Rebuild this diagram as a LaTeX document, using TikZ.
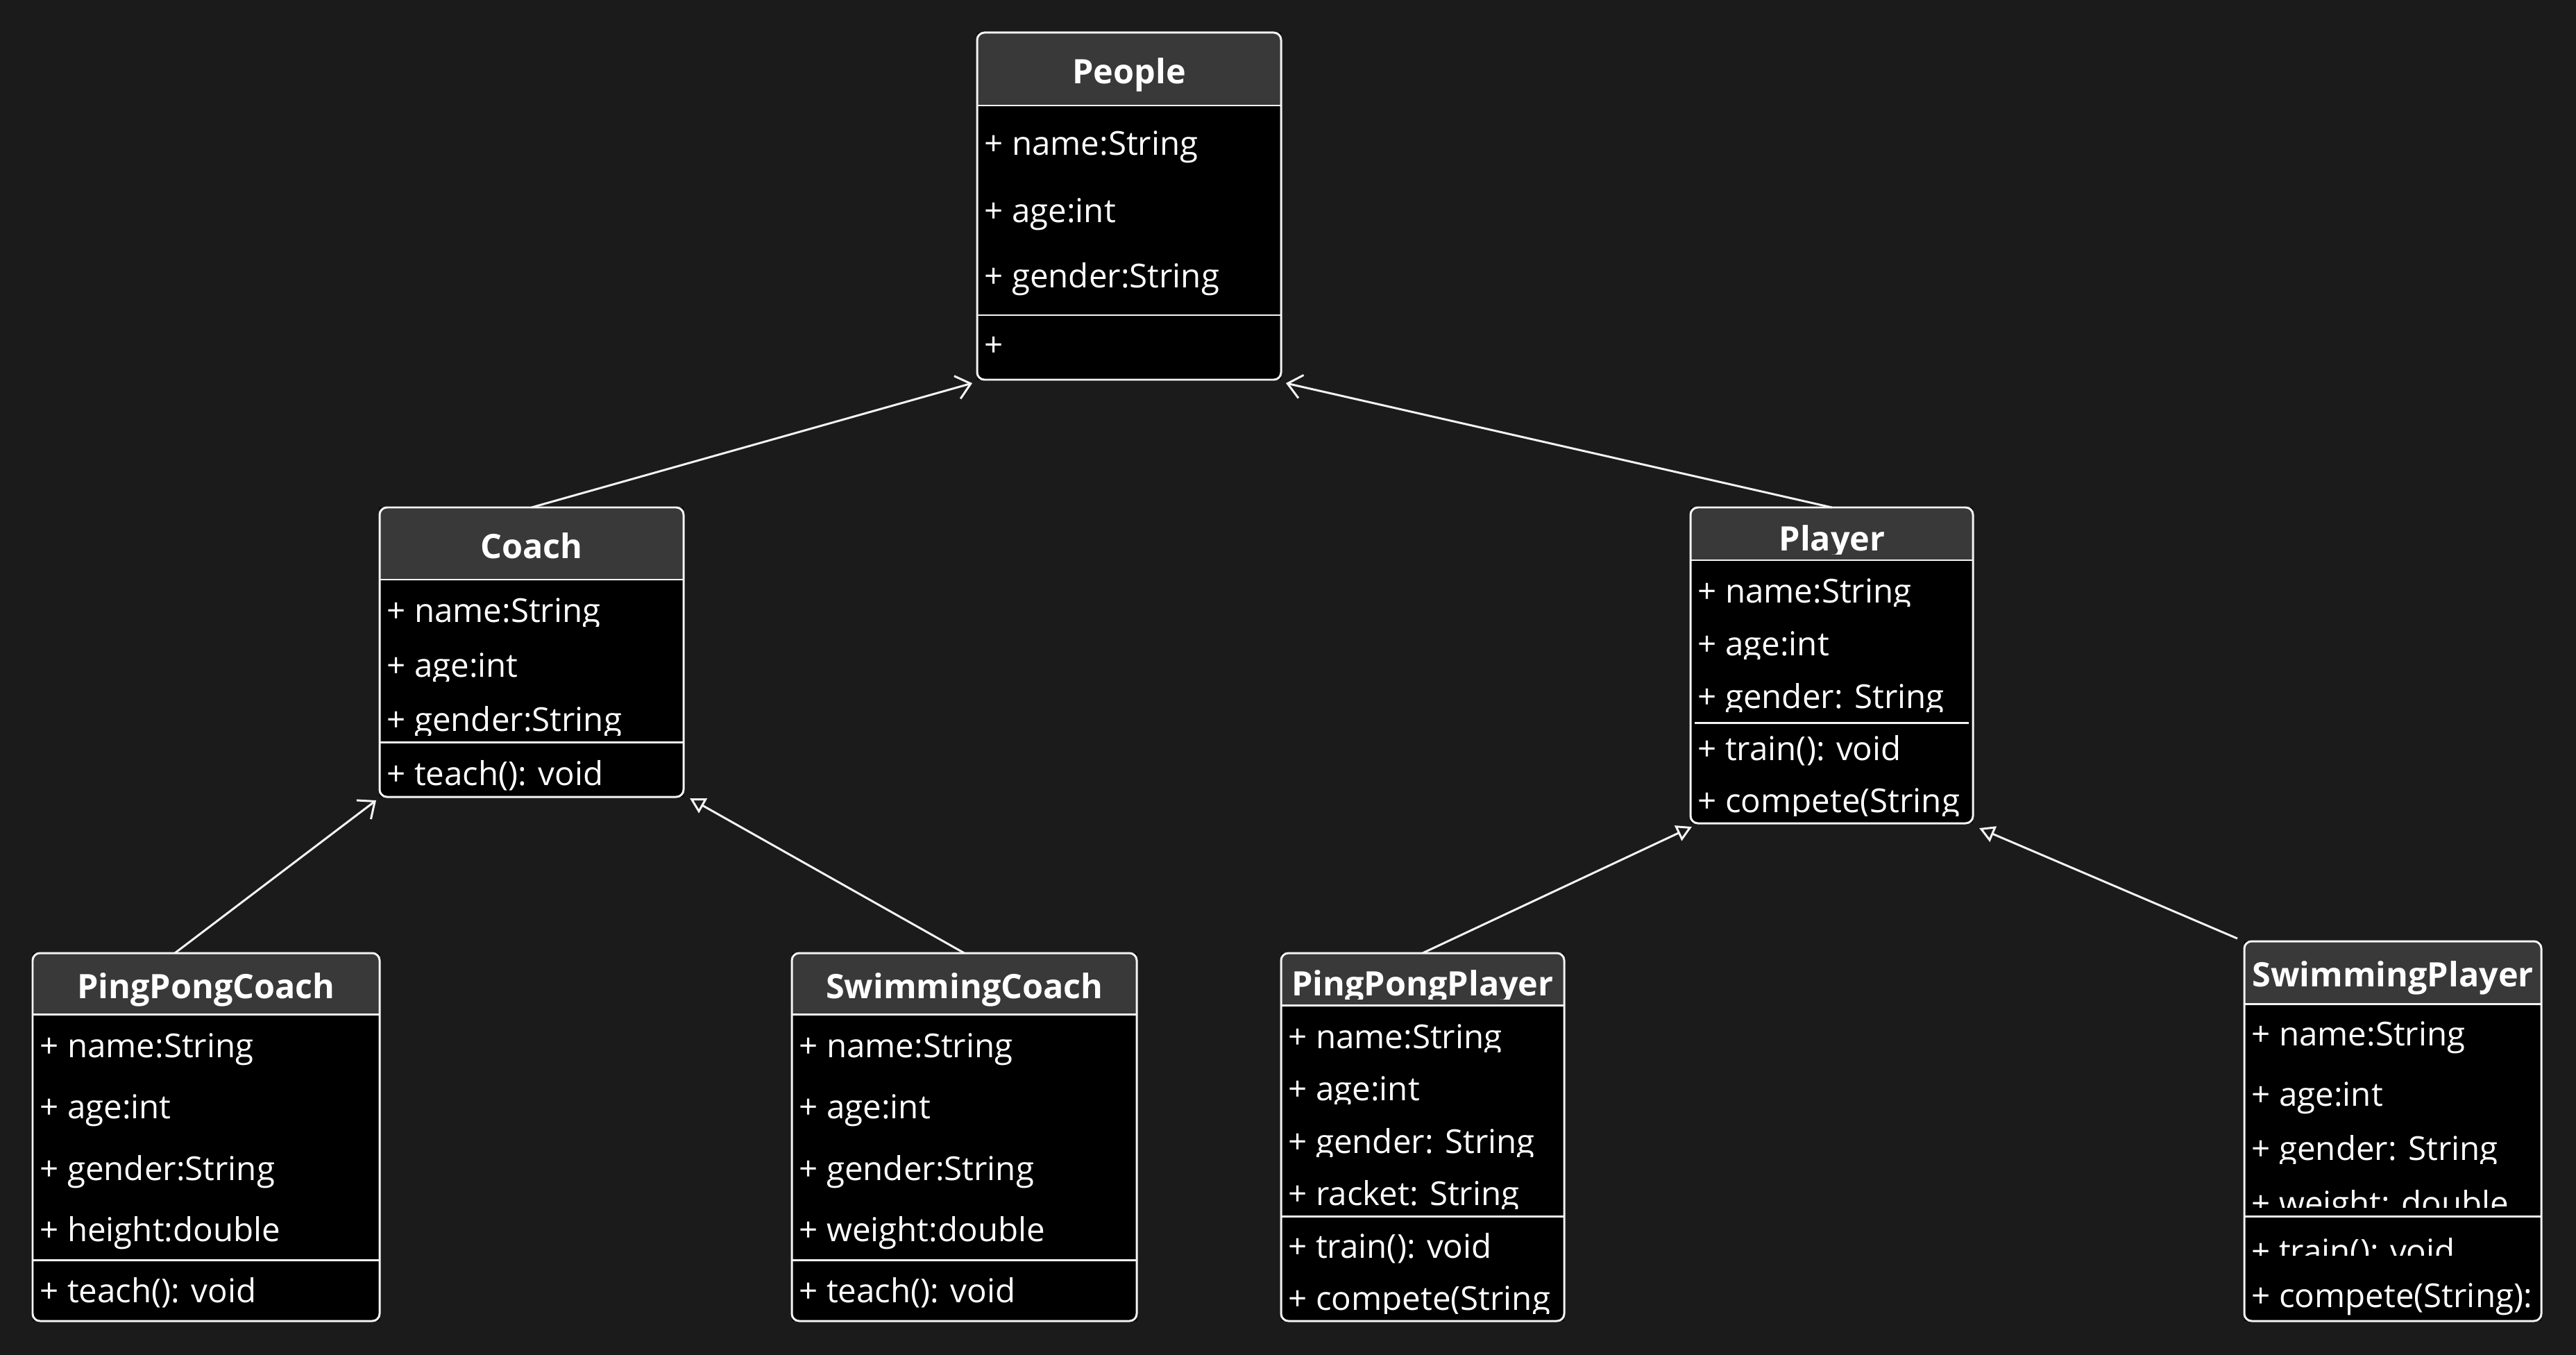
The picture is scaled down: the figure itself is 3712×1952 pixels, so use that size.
\documentclass[tikz,border=0pt]{standalone}
\usepackage{fontspec}
\setmainfont{Open Sans}
\usetikzlibrary{arrows.meta,calc,fit}
\definecolor{BgDark}{HTML}{1B1B1B}
\definecolor{HeadGray}{HTML}{393939}
\definecolor{EdgeWhite}{HTML}{F4F4F4}

% class box: name, x1, y1, x2, y2, header bottom
\newcommand{\umlbox}[6]{%
  \node[cls, fit={(#2,#3) (#4,#5)}] (#1) {};
  \begin{scope}
    \clip[rounded corners=3pt] (#1.north west) rectangle (#1.south east);
    \fill[HeadGray] (#1.north west) rectangle (#4,#6);
  \end{scope}
  \draw[sepline] (#2,#6) -- (#4,#6);
  \draw[boxline] (#1.north west) rectangle (#1.south east);
}
% one text line, cut off like the editor does: style, name, x, baseline, clip bottom, clip right, text
\newcommand{\umlrow}[7]{%
  \begin{scope}
    \clip (#3-300,#4-50) rectangle (#6,#5);
    \node[#1] (#2) at (#3,#4) {#7};
  \end{scope}}

\begin{document}
\begin{tikzpicture}[
  x=0.01cm, y=-0.01cm,
  cls/.style={fill=black, inner sep=0pt, outer sep=0pt},
  boxline/.style={draw=EdgeWhite, line width=0.85pt, rounded corners=3pt},
  sepline/.style={draw=EdgeWhite, line width=0.85pt},
  ttl/.style={text=white, font=\fontsize{13.8}{15}\selectfont\bfseries, anchor=base, inner sep=0pt},
  attr/.style={text=white, font=\fontsize{13.5}{15}\selectfont, anchor=base west, inner sep=0pt},
  assoc/.style={-{Straight Barb[length=2mm, width=3.4mm]}, EdgeWhite, line width=0.85pt},
  gen/.style={-{Triangle[open, length=2.2mm, width=2.4mm]}, EdgeWhite, line width=0.85pt}
]
\useasboundingbox (0,0) rectangle (3712,1952);
\fill[BgDark] (0,0) rectangle (3712,1952);

% ---- People ----
\umlbox{people}{1408}{47}{1846}{547}{152}
\umlrow{ttl}{people-t}{1627}{121}{160}{1846}{People}
\umlrow{attr}{people-a1}{1418}{224}{250}{1846}{+ name:String}
\umlrow{attr}{people-a2}{1418}{321}{345}{1846}{+ age:int}
\umlrow{attr}{people-a3}{1418}{415}{440}{1846}{+ gender:String}
\draw[sepline] (1408,454) -- (1846,454);
\umlrow{attr}{people-m1}{1418}{514}{540}{1846}{+}

% ---- Coach ----
\umlbox{coach}{547}{731}{985}{1148}{835}
\umlrow{ttl}{coach-t}{766}{804}{830}{985}{Coach}
\umlrow{attr}{coach-a1}{557}{896}{902}{985}{+ name:String}
\umlrow{attr}{coach-a2}{557}{975}{981}{985}{+ age:int}
\umlrow{attr}{coach-a3}{557}{1053}{1059}{985}{+ gender:String}
\draw[sepline] (547,1069) -- (985,1069);
\umlrow{attr}{coach-m1}{557}{1131}{1145}{985}{+ teach(): void}

% ---- Player ----
\umlbox{player}{2436}{731}{2843}{1186}{807}
\umlrow{ttl}{player-t}{2640}{793}{798}{2843}{Player}
\umlrow{attr}{player-a1}{2446}{868}{873}{2836}{+ name:String}
\umlrow{attr}{player-a2}{2446}{944}{949}{2836}{+ age:int}
\umlrow{attr}{player-a3}{2446}{1020}{1025}{2836}{+ gender: String}
\draw[sepline] (2442,1041) -- (2837,1041);
\umlrow{attr}{player-m1}{2446}{1095}{1115}{2836}{+ train(): void}
\umlrow{attr}{player-m2}{2446}{1170}{1175}{2836}{+ compete(String}

% ---- PingPongCoach ----
\umlbox{ppcoach}{47}{1373}{547}{1903}{1461}
\umlrow{ttl}{ppcoach-t}{297}{1438}{1460}{547}{PingPongCoach}
\umlrow{attr}{ppcoach-a1}{57}{1523}{1548}{547}{+ name:String}
\umlrow{attr}{ppcoach-a2}{57}{1611}{1636}{547}{+ age:int}
\umlrow{attr}{ppcoach-a3}{57}{1700}{1725}{547}{+ gender:String}
\umlrow{attr}{ppcoach-a4}{57}{1788}{1812}{547}{+ height:double}
\draw[sepline] (47,1815) -- (547,1815);
\umlrow{attr}{ppcoach-m1}{57}{1876}{1900}{547}{+ teach(): void}

% ---- SwimmingCoach ----
\umlbox{swcoach}{1141}{1373}{1638}{1903}{1461}
\umlrow{ttl}{swcoach-t}{1390}{1438}{1460}{1638}{SwimmingCoach}
\umlrow{attr}{swcoach-a1}{1151}{1523}{1548}{1638}{+ name:String}
\umlrow{attr}{swcoach-a2}{1151}{1611}{1636}{1638}{+ age:int}
\umlrow{attr}{swcoach-a3}{1151}{1700}{1725}{1638}{+ gender:String}
\umlrow{attr}{swcoach-a4}{1151}{1788}{1812}{1638}{+ weight:double}
\draw[sepline] (1141,1815) -- (1638,1815);
\umlrow{attr}{swcoach-m1}{1151}{1876}{1900}{1638}{+ teach(): void}

% ---- PingPongPlayer ----
\umlbox{ppplayer}{1846}{1373}{2254}{1903}{1448}
\umlrow{ttl}{ppplayer-t}{2050}{1434}{1439}{2254}{PingPongPlayer}
\umlrow{attr}{ppplayer-a1}{1856}{1510}{1515}{2246}{+ name:String}
\umlrow{attr}{ppplayer-a2}{1856}{1585}{1590}{2246}{+ age:int}
\umlrow{attr}{ppplayer-a3}{1856}{1661}{1666}{2246}{+ gender: String}
\umlrow{attr}{ppplayer-a4}{1856}{1736}{1741}{2246}{+ racket: String}
\draw[sepline] (1846,1752) -- (2254,1752);
\umlrow{attr}{ppplayer-m1}{1856}{1812}{1835}{2246}{+ train(): void}
\umlrow{attr}{ppplayer-m2}{1856}{1887}{1892}{2246}{+ compete(String}

% ---- SwimmingPlayer ----
\umlbox{swplayer}{3234}{1356}{3662}{1903}{1446}
\umlrow{ttl}{swplayer-t}{3448}{1421}{1444}{3662}{SwimmingPlayer}
\umlrow{attr}{swplayer-a1}{3244}{1506}{1530}{3655}{+ name:String}
\umlrow{attr}{swplayer-a2}{3244}{1593}{1618}{3655}{+ age:int}
\umlrow{attr}{swplayer-a3}{3244}{1671}{1676}{3655}{+ gender: String}
\umlrow{attr}{swplayer-a4}{3244}{1750}{1739}{3655}{+ weight: double}
\draw[sepline] (3234,1752) -- (3662,1752);
\umlrow{attr}{swplayer-m1}{3244}{1819}{1808}{3655}{+ train(): void}
\umlrow{attr}{swplayer-m2}{3244}{1883}{1900}{3655}{+ compete(String):}

% ---- Arrows ----
\draw[assoc] (coach.north) -- ($(people.south west)+(-7,5)$);
\draw[assoc] (player.north) -- ($(people.south east)+(7,5)$);
\draw[assoc] ($(ppcoach.north west)!0.41!(ppcoach.north east)$) -- ($(coach.south west)+(-5,5)$);
\draw[gen] (swcoach.north) -- ($(coach.south east)+(9,2)$);
\draw[gen] (ppplayer.north) -- ($(player.south west)+(2,5)$);
\draw[gen] ($(swplayer.north west)+(-10,-4)$) -- ($(player.south east)+(9,7)$);

\end{tikzpicture}
\end{document}
